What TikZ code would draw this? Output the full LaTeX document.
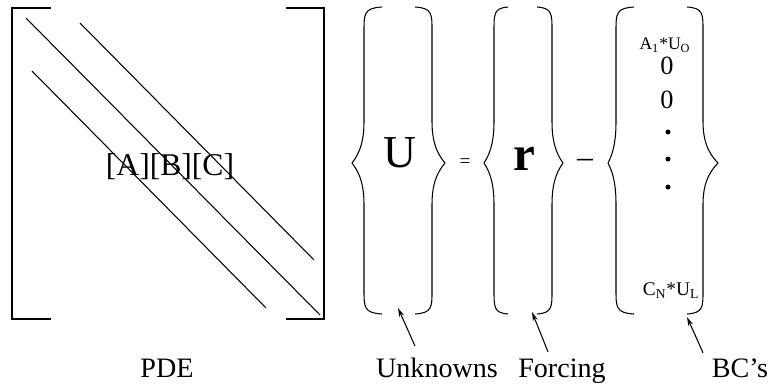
\documentclass[tikz,border=0pt]{standalone}
\usepackage{fontspec}
\setmainfont{Liberation Serif}
\usetikzlibrary{arrows.meta}
\tikzset{
  every picture/.style={line width=0.6pt},
  bracket/.style={line width=0.8pt},
  band/.style={line width=0.6pt},
  curly/.style={line width=0.6pt, line join=round},
  pointer/.style={-{Stealth[length=1.8mm, width=1mm]}, line width=0.6pt},
  caption/.style={font=\fontsize{16}{19}\selectfont, inner sep=0pt, anchor=base},
  bcterm/.style={font=\fontsize{#1}{#1}\selectfont, inner sep=0pt},
}

\begin{document}
\begin{tikzpicture}[x=0.02cm, y=-0.02cm]
  \useasboundingbox (0,0) rectangle (773,383);
  % the PDE matrix
  \draw[bracket] (51,8) -- (12,8) -- (12,319) -- (51,319);
  \draw[bracket] (286,8) -- (324,8) -- (324,319) -- (286,319);
  \foreach \xa/\ya/\xb/\yb in {26/18/320/315, 80/23/314/260, 32/71/266/308}
    \draw[band] (\xa,\ya) -- (\xb,\yb);
  \node[font=\fontsize{18}{20}\selectfont, inner sep=0pt] (abc) at (170,167) {[A][B][C]};
  % the three vectors
  \foreach \xe/\xs/\xt in {382/364/352, 415/432/445, 508/494/484, 537/552/563, 634/616/608, 687/703/718}
    \draw[curly] (\xe,7) .. controls (\xs,8) and (\xs,14) .. (\xs,30) -- (\xs,122)
      .. controls (\xs,148) and ({\xt+0.3*(\xs-\xt)},158) .. (\xt,163)
      .. controls ({\xt+0.3*(\xs-\xt)},168) and (\xs,178) .. (\xs,204) -- (\xs,291)
      .. controls (\xs,307) and (\xs,313) .. (\xe,314);
  \node[font=\fontsize{26}{28}\selectfont, inner sep=0pt, anchor=base] (vecU) at (400,167) {U};
  \node[font=\fontsize{11}{12}\selectfont, inner sep=0pt] (eqSign) at (465,163) {=};
  \node[font=\fontsize{28}{30}\selectfont\bfseries, inner sep=0pt, anchor=base] (vecR) at (524,170) {r};
  \node[font=\fontsize{18}{20}\selectfont, inner sep=0pt] (minusSign) at (585,163) {–};
  \node[bcterm=10] (bcTop) at (665,45) {A\textsubscript{1}*U\textsubscript{O}};
  \foreach \y/\nm in {66/zeroA, 100/zeroB}
    \node[bcterm=15] (\nm) at (667,\y) {0};
  \foreach \y in {132,159,187}
    \fill (668,\y) circle[radius=0.05cm];
  \node[bcterm=11] (bcBot) at (671,291) {C\textsubscript{N}*U\textsubscript{L}};
  % captions
  \node[caption] (lblPDE) at (167,377) {PDE};
  \node[caption] (lblUnk) at (437,377) {Unknowns};
  \node[caption] (lblForce) at (562,377) {Forcing};
  \node[caption] (lblBC) at (740,377) {BC’s};
  \coordinate (tipU) at (398,308);
  \coordinate (tipR) at (532,312);
  \coordinate (tipBC) at (687,317);
  \draw[pointer] ([xshift=-0.44cm, yshift=0.22cm]lblUnk.north) -- (tipU);
  \draw[pointer] ([xshift=-0.28cm, yshift=0.12cm]lblForce.north) -- (tipR);
  \draw[pointer] ([xshift=-0.74cm, yshift=0.10cm]lblBC.north) -- (tipBC);
\end{tikzpicture}
\end{document}
